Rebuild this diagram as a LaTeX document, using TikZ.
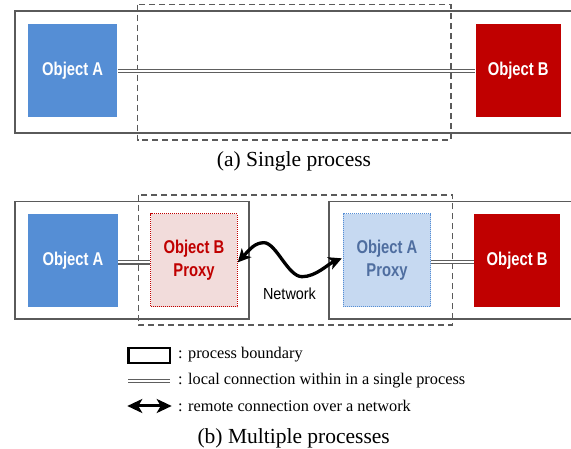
\documentclass[tikz,border=0pt]{standalone}
\usepackage{fontspec}
\setmainfont{Liberation Serif}
\newfontfamily\objfont[FakeStretch=0.8]{Liberation Sans}
\newfontfamily\netfont[FakeStretch=0.9]{Liberation Sans}
\usetikzlibrary{arrows.meta}
\definecolor{objblue}{HTML}{558ED5}
\definecolor{objred}{HTML}{C00000}
\definecolor{pinkfill}{HTML}{F2DCDB}
\definecolor{bluefill}{HTML}{C6D9F1}
\definecolor{proxytext}{HTML}{4F6EA0}
\definecolor{procgray}{HTML}{5A5A5A}
\definecolor{dblgray}{HTML}{5E5E5E}
\begin{document}
\begin{tikzpicture}[x=1pt,y=-1pt,
  objbase/.style={rectangle, inner sep=0pt, minimum height=92.7pt, align=center,
    font=\objfont\bfseries\fontsize{18.5}{23}\selectfont},
  objA/.style={objbase, fill=objblue, text=white},
  objB/.style={objbase, fill=objred, text=white},
  proxyB/.style={objbase, fill=pinkfill, text=objred, draw=objred, line width=1pt, dash pattern=on 1pt off 1pt, minimum height=93.3pt},
  proxyA/.style={objbase, fill=bluefill, text=proxytext, draw=objblue, line width=1pt, dash pattern=on 1pt off 1pt, minimum height=93.3pt},
  proc/.style={draw=procgray, line width=1.7pt},
  dashbox/.style={draw=procgray, line width=1.5pt, dash pattern=on 6pt off 4pt},
  dbl/.style={draw=dblgray, line width=1.5pt, double=white, double distance=1.6pt},
  net/.style={line width=3.3pt, line cap=round, >={Stealth[length=13pt,width=13pt,inset=3.5pt]}, <->},
  legarrow/.style={line width=3pt, >={Stealth[length=15pt,width=14pt,inset=4pt]}, <->},
  legtext/.style={anchor=west, inner sep=0pt, font=\fontsize{16.3}{19}\selectfont},
  caption/.style={inner sep=0pt, font=\fontsize{21.5}{25}\selectfont}
]
\useasboundingbox (0,0) rectangle (571,449);

% ---------- (a) single process ----------
\draw[proc] (571,10.7) -- (15,10.7) -- (15,132.7) -- (571,132.7);
\draw[dashbox] (137.6,4.7) rectangle (451,140);
\node[objA, minimum width=89.3pt] (a1) at (72.65,70.35) {Object A};
\node[objB, minimum width=85.2pt] (b1) at (518.2,70.35) {Object B};
\draw[dbl] ([yshift=-0.5pt]a1.east) -- ([yshift=-0.5pt]b1.west);
\node[caption] (capa) at (294,161.7) {(a)\ Single process};

% ---------- (b) multiple processes ----------
\draw[proc] (15.3,201.5) rectangle (249.3,319);
\draw[proc] (571,201.5) -- (329.3,201.5) -- (329.3,319) -- (571,319);
\draw[dashbox] (138.3,195) rectangle (452.7,325);
\node[objA, minimum width=89.4pt] (a2) at (73,260.65) {Object A};
\node[proxyB, minimum width=86.6pt] (pb) at (194,260.35) {Object B\\Proxy};
\node[proxyA, minimum width=87.4pt] (pa) at (387,260.35) {Object A\\Proxy};
\node[objB, minimum width=85.7pt] (b2) at (517.15,260.65) {Object B};
\draw[dbl] ([yshift=-1.6pt]a2.east) -- ([yshift=-1.6pt]a2.east -| pb.west);
\draw[dbl] ([yshift=-1.6pt]pa.east) -- ([yshift=-1.6pt]pa.east -| b2.west);
\draw[net] ([yshift=-2pt]pb.east) .. controls (250,249) and (255,242.7) .. (264,242.7)
  .. controls (276,242.7) and (288,276.7) .. (302,276.7)
  .. controls (316,276.7) and (328,264) .. ([xshift=-1pt,yshift=2pt]pa.west);
\node[inner sep=0pt, font=\netfont\fontsize{16}{19}\selectfont] (netlbl) at (289.5,294) {Network};

% ---------- legend ----------
\node[draw=black, line width=2.4pt, rectangle, inner sep=0pt, minimum width=41.7pt, minimum height=15pt] (legbox) at (149.2,355.8) {};
\coordinate (ld1) at (128,381);
\coordinate (ld2) at (170,381);
\draw[dbl] (ld1) -- (ld2);
\coordinate (la1) at (127.3,406);
\coordinate (la2) at (171.7,406);
\draw[legarrow] (la1) -- (la2);
\node[legtext] (lt1) at (178,354.5) {: process boundary};
\node[legtext] (lt2) at (178,380.5) {: local connection within in a single process};
\node[legtext] (lt3) at (178,405.5) {: remote connection over a network};
\node[caption] (capb) at (293.7,438) {(b)\ Multiple processes};
\end{tikzpicture}
\end{document}
